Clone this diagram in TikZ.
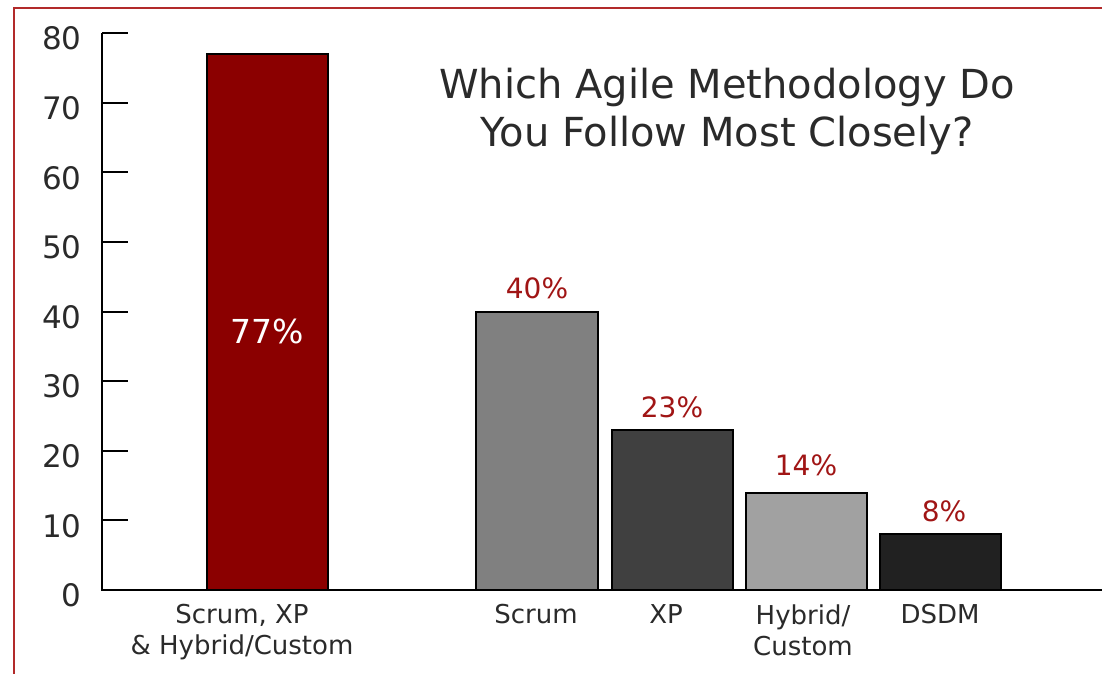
\documentclass[tikz,border=0pt]{standalone}
\usepackage{fontspec}
\setmainfont{DejaVu Sans}
\usepackage{xcolor}
\definecolor{framered}{HTML}{B22A2A}
\definecolor{maroon}{HTML}{8B0000}
\definecolor{pctred}{HTML}{A01515}
\definecolor{ink}{HTML}{2A2A2A}

\begin{document}
\begin{tikzpicture}[%
    x=0.5pt,
    y=-0.5pt,
    axis/.style={draw=black, line width=1pt},
    bar/.style={draw=black, line width=0.9pt},
    ticklab/.style={%
      anchor=east,
      inner sep=0pt,
      text=ink,
      font=\fontsize{15.5}{18}\selectfont
    },
    pctlab/.style={%
      inner sep=0pt,
      text=pctred,
      font=\fontsize{14}{16}\selectfont
    },
    catlab/.style={%
      anchor=north,
      inner sep=0pt,
      align=center,
      text=ink,
      font=\fontsize{13}{15.5}\selectfont
    }
  ]
    \useasboundingbox (0,0) rectangle (1102,674);
    \draw[framered, line width=1.2pt] (14,8) rectangle (1130,700);

    % bars
    \draw[bar, fill=maroon]        (207,590) rectangle (328,54.1);
    \draw[bar, fill=black!50]      (476,590) rectangle (598,311.6);
    \draw[bar, fill=black!75]      (612,590) rectangle (733,429.9);
    \draw[bar, fill=black!37]      (746,590) rectangle (867,492.6);
    \draw[bar, fill=black!87]      (880,590) rectangle (1001,534.3);

    % axes
    \draw[axis] (102,33.2) -- (102,590) -- (1102,590);
    \foreach \v in {0,10,...,80} {
      \draw[axis] (102,{590-6.96*\v}) -- (128,{590-6.96*\v});
      \node[ticklab] (tick\v) at (82,{595.5-6.96*\v}) {\v};
    }

    \node[align=center, text=ink, font=\fontsize{20}{24}\selectfont]
         (title) at (727,111) {Which Agile Methodology Do\\You Follow Most Closely?};

    \node[text=white, inner sep=0pt, font=\fontsize{16.5}{19}\selectfont]
         (all) at (267,331) {77\%};
    \node[pctlab] (scrumpct)  at (537,288) {40\%};
    \node[pctlab] (xppct)     at (672,407) {23\%};
    \node[pctlab] (hybridpct) at (806,465) {14\%};
    \node[pctlab] (dsdmpct)   at (944,511) {8\%};

    \node[catlab] (allcat)    at (242,604) {Scrum, XP\\\& Hybrid/Custom};
    \node[catlab] (scrumcat)  at (536,604) {Scrum};
    \node[catlab] (xpcat)     at (666,604) {XP};
    \node[catlab] (hybridcat) at (803,604) {Hybrid/\\Custom};
    \node[catlab] (dsdmcat)   at (940,604) {DSDM};
  \end{tikzpicture}
\end{document}
